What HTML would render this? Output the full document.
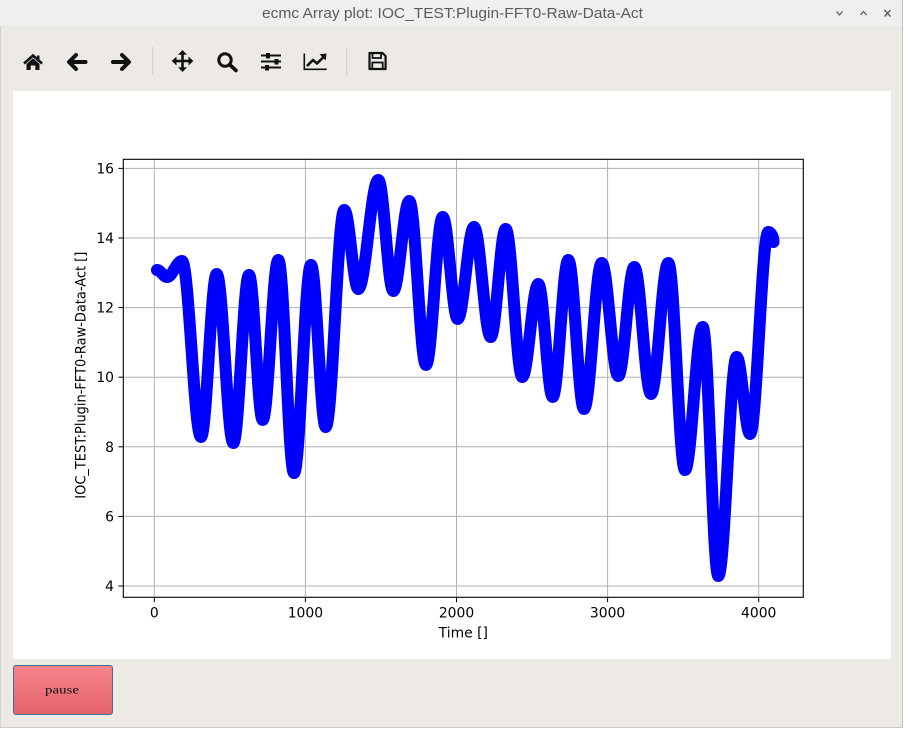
<!DOCTYPE html>
<html>
<head>
<meta charset="utf-8">
<style>
  html, body { margin:0; padding:0; width:905px; height:730px; overflow:hidden; background:#ffffff; }
  svg { display:block; }
</style>
</head>
<body>
<svg width="905" height="730" viewBox="0 0 905 730" xmlns="http://www.w3.org/2000/svg">
  <defs>
    <linearGradient id="btn" x1="0" y1="0" x2="0" y2="1">
      <stop offset="0" stop-color="#f7848b"/>
      <stop offset="1" stop-color="#e4636a"/>
    </linearGradient>
  </defs>

  <!-- window background -->
  <rect x="0" y="0" width="902" height="727" fill="#edeae6"/>
  <line x1="902.5" y1="0" x2="902.5" y2="728" stroke="#c4c4c4" stroke-width="1"/>
  <line x1="0" y1="727.5" x2="903" y2="727.5" stroke="#c8c8c8" stroke-width="1"/>
  <line x1="0.5" y1="26" x2="0.5" y2="727" stroke="#d4d2ce" stroke-width="1"/>

  <!-- title bar -->
  <rect x="0" y="0" width="902" height="26" fill="#efefef"/>
  <text x="262" y="18" font-family="'Liberation Sans', sans-serif" font-size="15" fill="#5c5c5c" textLength="381" lengthAdjust="spacingAndGlyphs">ecmc Array plot: IOC_TEST:Plugin-FFT0-Raw-Data-Act</text>
  <!-- window controls -->
  <polyline points="836.5,11.5 839.5,15 842.5,11.5" fill="none" stroke="#555" stroke-width="1.2"/>
  <polyline points="860.5,15 863.5,11.5 866.5,15" fill="none" stroke="#555" stroke-width="1.2"/>
  <line x1="884.5" y1="10" x2="890.5" y2="16.5" stroke="#555" stroke-width="1.3"/>
  <line x1="890.5" y1="10" x2="884.5" y2="16.5" stroke="#555" stroke-width="1.3"/>

  <!-- toolbar icons -->
  <g fill="#111" stroke="#111">
    <!-- home -->
    <polyline points="24,63.5 33,55.5 42,63.5" fill="none" stroke-width="2.6" stroke-linejoin="miter"/>
    <path d="M26.5,64 L33,58.3 L39.5,64 L39.5,70 L35.3,70 L35.3,65.5 L30.7,65.5 L30.7,70 L26.5,70 Z" stroke="none"/>
    <rect x="37" y="55.5" width="2.5" height="5" stroke="none"/>
    <!-- back -->
    <polyline points="76,55 69,62 76,69" fill="none" stroke-width="4" stroke-linecap="round" stroke-linejoin="round"/>
    <line x1="70" y1="62" x2="85.5" y2="62" stroke-width="4" stroke-linecap="round"/>
    <!-- forward -->
    <polyline points="122,55 129,62 122,69" fill="none" stroke-width="4" stroke-linecap="round" stroke-linejoin="round"/>
    <line x1="113" y1="62" x2="128" y2="62" stroke-width="4" stroke-linecap="round"/>
    <!-- move -->
    <line x1="175" y1="61" x2="190" y2="61" stroke-width="2.6"/>
    <line x1="182.5" y1="53" x2="182.5" y2="69" stroke-width="2.6"/>
    <polygon points="171.7,61 176.5,56.5 176.5,65.5" stroke="none"/>
    <polygon points="193.3,61 188.5,56.5 188.5,65.5" stroke="none"/>
    <polygon points="182.5,50 178,54.8 187,54.8" stroke="none"/>
    <polygon points="182.5,72 178,67.2 187,67.2" stroke="none"/>
    <!-- zoom -->
    <circle cx="225" cy="60" r="6.2" fill="none" stroke-width="3"/>
    <line x1="229.5" y1="64.5" x2="236" y2="70.5" stroke-width="3.6" stroke-linecap="round"/>
    <!-- sliders -->
    <line x1="261" y1="55.5" x2="281" y2="55.5" stroke-width="2"/>
    <line x1="261" y1="61.5" x2="281" y2="61.5" stroke-width="2"/>
    <line x1="261" y1="67.5" x2="281" y2="67.5" stroke-width="2"/>
    <rect x="266" y="53" width="4" height="5.5" stroke="none"/>
    <rect x="274.5" y="59" width="4" height="5.5" stroke="none"/>
    <rect x="265" y="65" width="4" height="5.5" stroke="none"/>
    <!-- chart -->
    <polyline points="304.3,53.5 304.3,69.3 326.7,69.3" fill="none" stroke-width="1.6"/>
    <polyline points="307,66 313,60 317,63.5 323.5,57" fill="none" stroke-width="2.6" stroke-linejoin="round"/>
    <polygon points="326.5,53.5 319.5,54.3 325.7,60.5" stroke="none"/>
    <!-- save -->
    <path d="M369.5,53 L382.5,53 L385.6,56.1 L385.6,69 L369.5,69 Z" fill="none" stroke-width="2.2" stroke-linejoin="round"/>
    <rect x="372.5" y="53" width="8.5" height="5" fill="none" stroke-width="1.8"/>
    <rect x="372.3" y="62.5" width="10.4" height="6.5" fill="none" stroke-width="1.8"/>
  </g>
  <!-- toolbar separators -->
  <line x1="152.7" y1="47" x2="152.7" y2="75" stroke="#cfccc7" stroke-width="1"/>
  <line x1="346.7" y1="47" x2="346.7" y2="75" stroke="#cfccc7" stroke-width="1"/>

  <!-- white figure panel -->
  <rect x="13" y="91" width="878" height="568" fill="#ffffff"/>

  <!-- grid -->
  <g stroke="#b0b0b0" stroke-width="1">
    <line x1="154.3" y1="159.3" x2="154.3" y2="597.3"/>
    <line x1="305.4" y1="159.3" x2="305.4" y2="597.3"/>
    <line x1="456.5" y1="159.3" x2="456.5" y2="597.3"/>
    <line x1="607.6" y1="159.3" x2="607.6" y2="597.3"/>
    <line x1="758.7" y1="159.3" x2="758.7" y2="597.3"/>
    <line x1="123.3" y1="586" x2="803.3" y2="586"/>
    <line x1="123.3" y1="516.4" x2="803.3" y2="516.4"/>
    <line x1="123.3" y1="446.8" x2="803.3" y2="446.8"/>
    <line x1="123.3" y1="377.2" x2="803.3" y2="377.2"/>
    <line x1="123.3" y1="307.6" x2="803.3" y2="307.6"/>
    <line x1="123.3" y1="238" x2="803.3" y2="238"/>
    <line x1="123.3" y1="168.4" x2="803.3" y2="168.4"/>
  </g>

  <!-- data curve -->
  <path fill="none" stroke="#0000ff" stroke-width="12" stroke-linecap="round" stroke-linejoin="round"
    d="M157,270
       C160.6,270 163.4,277 167,277
       C172.4,277 176.6,261 182,261
       C188.84,261 194.16,437 201,437
       C206.65,437 211.05,274 216.7,274
       C222.68,274 227.32,443 233.3,443
       C238.95,443 243.35,275 249,275
       C253.93,275 257.77,420 262.7,420
       C268.32,420 272.68,260 278.3,260
       C283.95,260 288.35,473 294,473
       C300.12,473 304.88,265 311,265
       C316.29,265 320.41,427 325.7,427
       C332.4,427 337.6,210 344.3,210
       C349.34,210 353.26,289 358.3,289
       C365.5,289 371.1,180 378.3,180
       C383.7,180 387.9,291 393.3,291
       C399.06,291 403.54,201 409.3,201
       C415.31,201 419.99,365 426,365
       C432.01,365 436.69,217 442.7,217
       C448.1,217 452.3,319 457.7,319
       C463.57,319 468.13,227 474,227
       C480.01,227 484.69,337 490.7,337
       C496.1,337 500.3,229 505.7,229
       C511.68,229 516.32,377 522.3,377
       C528.06,377 532.54,284 538.3,284
       C543.48,284 547.52,397 552.7,397
       C558.32,397 562.68,260 568.3,260
       C573.95,260 578.35,409 584,409
       C590.37,409 595.33,263 601.7,263
       C607.68,263 612.32,376 618.3,376
       C624.06,376 628.54,267 634.3,267
       C640.31,267 644.99,394 651,394
       C657.23,394 662.07,263 668.3,263
       C674.31,263 678.99,470 685,470
       C691.37,470 696.33,327 702.7,327
       C708.32,327 712.68,576 718.3,576
       C724.92,576 730.08,357 736.7,357
       C741.49,357 745.21,434 750,434
       C756.59,434 761.71,232 768.3,232
       C771,232 773.5,237 773.5,242"/>

  <!-- axes frame -->
  <rect x="123.3" y="159.3" width="680" height="438" fill="none" stroke="#000" stroke-width="1.1"/>

  <!-- ticks -->
  <g stroke="#000" stroke-width="1">
    <line x1="154.3" y1="597.3" x2="154.3" y2="602.2"/>
    <line x1="305.4" y1="597.3" x2="305.4" y2="602.2"/>
    <line x1="456.5" y1="597.3" x2="456.5" y2="602.2"/>
    <line x1="607.6" y1="597.3" x2="607.6" y2="602.2"/>
    <line x1="758.7" y1="597.3" x2="758.7" y2="602.2"/>
    <line x1="118.4" y1="586" x2="123.3" y2="586"/>
    <line x1="118.4" y1="516.4" x2="123.3" y2="516.4"/>
    <line x1="118.4" y1="446.8" x2="123.3" y2="446.8"/>
    <line x1="118.4" y1="377.2" x2="123.3" y2="377.2"/>
    <line x1="118.4" y1="307.6" x2="123.3" y2="307.6"/>
    <line x1="118.4" y1="238" x2="123.3" y2="238"/>
    <line x1="118.4" y1="168.4" x2="123.3" y2="168.4"/>
  </g>

  <!-- tick labels -->
  <g font-family="'DejaVu Sans', 'Liberation Sans', sans-serif" font-size="13.9" fill="#000">
    <g text-anchor="middle">
      <text x="154.3" y="617.5">0</text>
      <text x="305.4" y="617.5">1000</text>
      <text x="456.5" y="617.5">2000</text>
      <text x="607.6" y="617.5">3000</text>
      <text x="758.7" y="617.5">4000</text>
    </g>
    <g text-anchor="end">
      <text x="114" y="591">4</text>
      <text x="114" y="521.4">6</text>
      <text x="114" y="451.8">8</text>
      <text x="114" y="382.2">10</text>
      <text x="114" y="312.6">12</text>
      <text x="114" y="243">14</text>
      <text x="114" y="173.4">16</text>
    </g>
    <text x="463.3" y="637.4" text-anchor="middle">Time []</text>
    <text transform="translate(85.3,375.2) rotate(-90)" text-anchor="middle" textLength="247" lengthAdjust="spacingAndGlyphs">IOC_TEST:Plugin-FFT0-Raw-Data-Act []</text>
  </g>

  <!-- pause button -->
  <rect x="13.5" y="665.5" width="99" height="49" rx="2.5" ry="2.5" fill="url(#btn)" stroke="#3f6f9a" stroke-width="1"/>
  <text x="62" y="693.5" text-anchor="middle" font-family="'Liberation Serif', serif" font-size="12" fill="#111" textLength="34" lengthAdjust="spacingAndGlyphs">pause</text>
</svg>
</body>
</html>
